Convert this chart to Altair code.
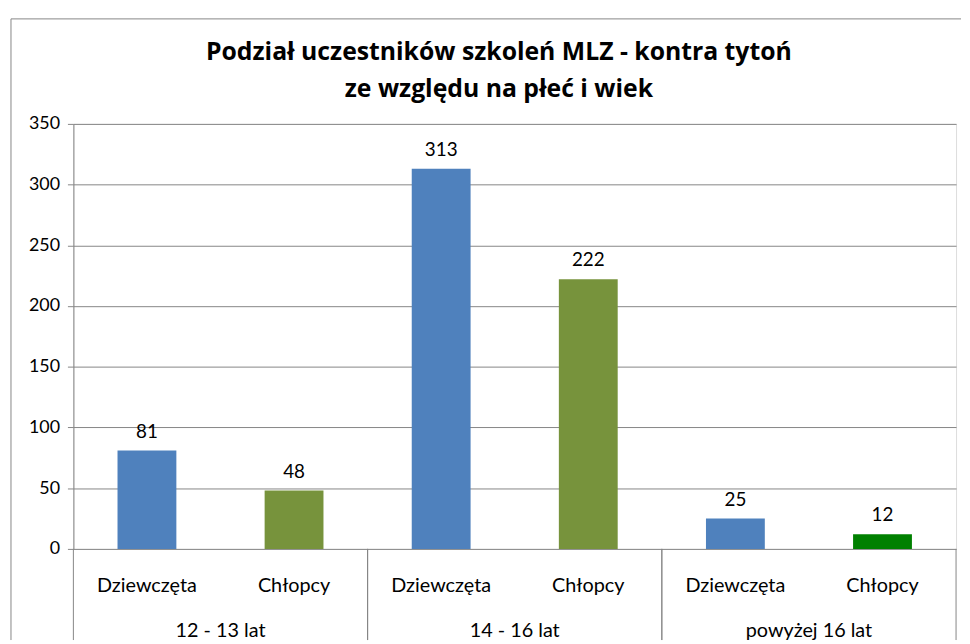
import altair as alt
import pandas as pd

groups = ["12 - 13 lat", "14 - 16 lat", "powyżej 16 lat"]
genders = ["Dziewczęta", "Chłopcy"]
values = [81, 48, 313, 222, 25, 12]
bar_colors = ["#4F81BD", "#77933C", "#4F81BD", "#77933C", "#4F81BD", "#008000"]
y_ticks = [0, 50, 100, 150, 200, 250, 300, 350]
title_lines = ["Podział uczestników szkoleń MLZ - kontra tytoń", "ze względu na płeć i wiek"]

rows = []
for i, g in enumerate(groups):
    for j, s in enumerate(genders):
        rows.append({"group": g, "gender": s, "key": f"{g}|{s}", "value": values[i * 2 + j]})
df = pd.DataFrame(rows)
keys = list(df["key"])
gdf = pd.DataFrame({"group": groups})
one = pd.DataFrame({"a": [0]})

W, H = 891, 429
FONT = "Lato"
GRID = "#868686"

xscale = alt.Scale(domain=keys, paddingInner=0.6, paddingOuter=0.3)
gscale = alt.Scale(domain=groups, paddingInner=0, paddingOuter=0)

bars = alt.Chart(df).mark_bar().encode(
    x=alt.X("key:N", sort=keys, scale=xscale,
            axis=alt.Axis(title=None, labelExpr="split(datum.label,'|')[1]", domain=False,
                          ticks=False, labelAngle=0, labelPadding=27, labelFontSize=20,
                          labelFont=FONT, labelColor="#000")),
    y=alt.Y("value:Q", scale=alt.Scale(domain=[0, 350], nice=False),
            axis=alt.Axis(values=y_ticks, title=None, grid=True, gridColor=GRID,
                          domainColor=GRID, tickColor=GRID, tickSize=6, labelPadding=8,
                          labelFontSize=18, labelFont=FONT, labelColor="#000")),
    color=alt.Color("key:N", scale=alt.Scale(domain=keys, range=bar_colors), legend=None),
)

labels = alt.Chart(df).mark_text(baseline="bottom", dy=-9, fontSize=19, font=FONT, color="#000").encode(
    x=alt.X("key:N", sort=keys, scale=xscale, axis=None),
    y=alt.Y("value:Q"),
    text=alt.Text("value:Q"),
)

seps_l = alt.Chart(gdf).mark_rule(color=GRID, strokeWidth=1).encode(
    x=alt.X("group:N", sort=groups, scale=gscale, axis=None, bandPosition=0),
    y=alt.value(H), y2=alt.value(H + 92),
)
seps_r = alt.Chart(gdf).mark_rule(color=GRID, strokeWidth=1).encode(
    x=alt.X("group:N", sort=groups, scale=gscale, axis=None, bandPosition=1),
    y=alt.value(H), y2=alt.value(H + 92),
)
glabels = alt.Chart(gdf).mark_text(fontSize=20, font=FONT, color="#000", baseline="middle").encode(
    x=alt.X("group:N", sort=groups, scale=gscale, axis=None, bandPosition=0.5),
    y=alt.value(H + 83),
    text="group:N",
)

frame_top = alt.Chart(one).mark_rule(color=GRID, strokeWidth=1).encode(
    x=alt.value(-63), x2=alt.value(W + 5), y=alt.value(-106)
)
frame_left = alt.Chart(one).mark_rule(color=GRID, strokeWidth=1).encode(
    x=alt.value(-63), y=alt.value(-106), y2=alt.value(H + 92)
)

title = alt.Chart(one).mark_text(
    font="Open Sans", fontSize=25, fontWeight="bold", color="#000",
    baseline="middle", align="center", lineHeight=38,
).encode(
    x=alt.value(W / 2 - 16), y=alt.value(-73), text=alt.value(title_lines)
)

chart = alt.layer(frame_top, frame_left, title, bars, labels, seps_l, seps_r, glabels).resolve_scale(
    x="independent"
).properties(
    width=W, height=H,
    padding={"left": 2, "top": 7, "right": 0, "bottom": 0},
).configure_view(stroke=None).configure(background="white")

chart.save("out.html", embed_options={"renderer": "svg", "actions": False})
